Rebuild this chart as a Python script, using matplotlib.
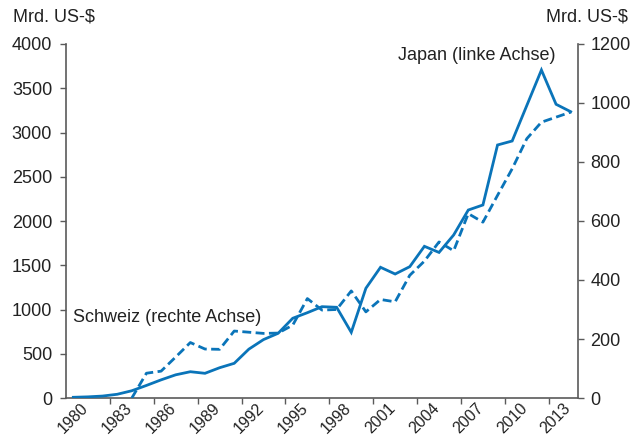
import numpy as np
import matplotlib.pyplot as plt

plt.rcParams['font.family'] = ['Liberation Sans', 'DejaVu Sans']

# Jahre (Kategorien)
jahre = list(range(1980, 2015))

# Japan, Mrd. US-$ (linke Achse)
japan = [8, 13, 22, 42, 82, 142, 205, 262, 297, 279,
         342, 392, 552, 660, 731, 901, 964, 1032, 1025, 742,
         1240, 1477, 1401, 1484, 1714, 1645, 1842, 2124, 2181, 2859,
         2904, 3305, 3706, 3319, 3235]

# Schweiz, Mrd. US-$ (rechte Achse); vor 1984 keine Werte
schweiz = [np.nan, np.nan, np.nan, np.nan, 0, 84, 91, 139, 188, 166,
           165, 227, 223, 219, 220, 247, 337, 298, 300, 363,
           292, 334, 326, 416, 464, 529, 499, 625, 596, 687,
           777, 879, 935, 952, 969]

tick_jahre = list(range(1980, 2014, 3))

blau = '#0a74b9'
grau = '#5a5a5a'
fs = 13

fig = plt.figure(figsize=(6.31, 4.40), dpi=100)
ax = fig.add_axes([66 / 631, 42 / 440, 512 / 631, 354 / 440])
ax2 = ax.twinx()

ax.plot(jahre, japan, color=blau, lw=2.0, solid_joinstyle='miter', zorder=3)
ax2.plot(jahre, schweiz, color=blau, lw=2.0, dashes=(3.2, 1.6), zorder=3)

ax.set_xlim(1979.5, 2014.5)
ax.set_ylim(0, 4000)
ax2.set_ylim(0, 1200)
ax.set_yticks(np.arange(0, 4001, 500))
ax2.set_yticks(np.arange(0, 1201, 200))

# Beschriftungen mittig unter den Jahren, Teilstriche zwischen den Kategorien
ax.set_xticks(tick_jahre)
ax.set_xticklabels([str(j) for j in tick_jahre], rotation=45, ha='center')
ax.set_xticks(np.arange(1982.5, 2013, 3), minor=True)
ax.tick_params(axis='x', which='major', length=0, pad=2, labelsize=11.5, colors='#222222')
ax.tick_params(axis='x', which='minor', length=4, width=1, color=grau)

ax.tick_params(axis='y', length=4, width=1, color=grau, pad=6, labelsize=fs, labelcolor='#222222')
ax2.tick_params(axis='y', length=4, width=1, color=grau, pad=5, labelsize=fs, labelcolor='#222222')

for a in (ax, ax2):
    a.spines['top'].set_visible(False)
    for s in ('left', 'right', 'bottom'):
        a.spines[s].set_color(grau)
        a.spines[s].set_linewidth(1.2)
ax.spines['right'].set_visible(False)
ax2.spines['left'].set_visible(False)
ax2.spines['bottom'].set_visible(False)

ax.text(0.648, 0.967, 'Japan (linke Achse)', transform=ax.transAxes,
        fontsize=fs, color='#222222', va='center', ha='left')
ax.text(0.014, 0.228, 'Schweiz (rechte Achse)', transform=ax.transAxes,
        fontsize=fs, color='#222222', va='center', ha='left')

fig.text(13 / 631, 1 - 17 / 440, 'Mrd. US-$', fontsize=fs, color='#222222', va='center', ha='left')
fig.text(628 / 631, 1 - 17 / 440, 'Mrd. US-$', fontsize=fs, color='#222222', va='center', ha='right')

fig.savefig('out.png', dpi=100)
